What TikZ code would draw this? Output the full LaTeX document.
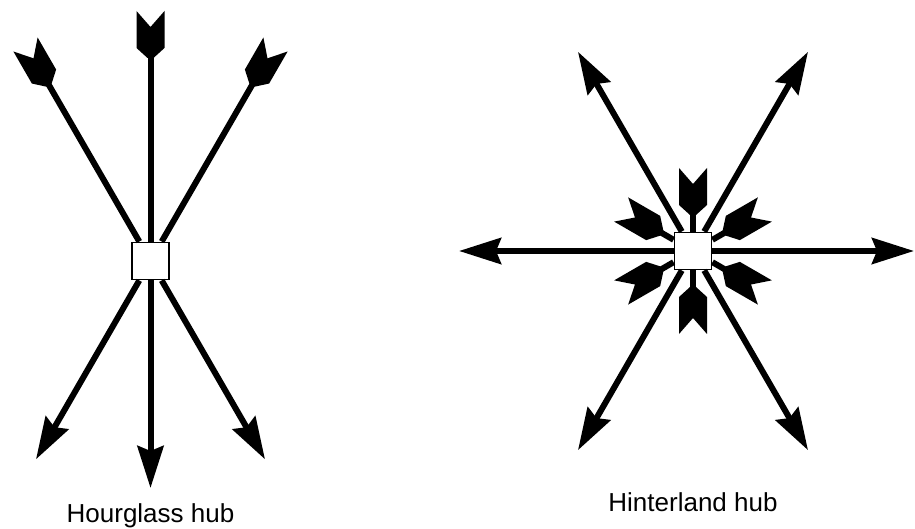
\documentclass[tikz,border=0pt]{standalone}
\usepackage{fontspec}
\setmainfont{Liberation Sans}
\usetikzlibrary{arrows.meta,calc}
\tikzset{
  shaft/.style={line width=6pt, -{Stealth[length=42pt,width=26pt,inset=5pt]}},
  inshaft/.style={line width=6pt, shorten <=20pt},
  hub/.style={draw, line width=1.9pt, fill=white, minimum size=37pt, inner sep=0pt},
  hublabel/.style={font=\fontsize{26}{30}\selectfont, inner sep=0pt},
  fletch/.pic={\fill (0pt,14pt) -- (16pt,0pt) -- (0pt,-14pt) -- (37pt,-14pt) -- (47pt,-3pt) -- (47pt,3pt) -- (37pt,14pt) -- cycle;}
}
\begin{document}
\begin{tikzpicture}[x=1pt,y=1pt]
\useasboundingbox (0,0) rectangle (915,529);
% ---------- Hourglass hub ----------
\coordinate (Lc) at (150.5,268);
\node[hub] (hubL) at (Lc) {};
\foreach \t/\r in {90/227, 120/229, 60/229}{
  \coordinate (Lt\t) at ($(Lc)+(\t:250pt)$);
  \coordinate (Lp\t) at ($(Lc)+(\t+180:\r pt)$);
  \draw[inshaft] (Lt\t) -- (hubL);
  \draw[shaft] (hubL) -- (Lp\t);
  \path (Lt\t) pic[rotate=\t+180]{fletch};
}
% ---------- Hinterland hub ----------
\coordinate (Rc) at (693,278);
\node[hub] (hubR) at (Rc) {};
\foreach \a/\r in {0/221, 60/230, 120/230, 180/234, 240/230, 300/230}{
  \coordinate (Rp\a) at ($(Rc)+(\a:\r pt)$);
  \draw[shaft] (hubR) -- (Rp\a);
}
\foreach \a in {30,90,150,210,270,330}{
  \coordinate (Rt\a) at ($(Rc)+(\a:83pt)$);
  \draw[inshaft] (Rt\a) -- (hubR);
  \path (Rt\a) pic[rotate=\a+180]{fletch};
}
% ---------- labels ----------
\node[hublabel, anchor=base] (capL) at (150.5,6.5) {Hourglass hub};
\node[hublabel, anchor=base] (capR) at (693,17) {Hinterland hub};
\end{tikzpicture}
\end{document}
